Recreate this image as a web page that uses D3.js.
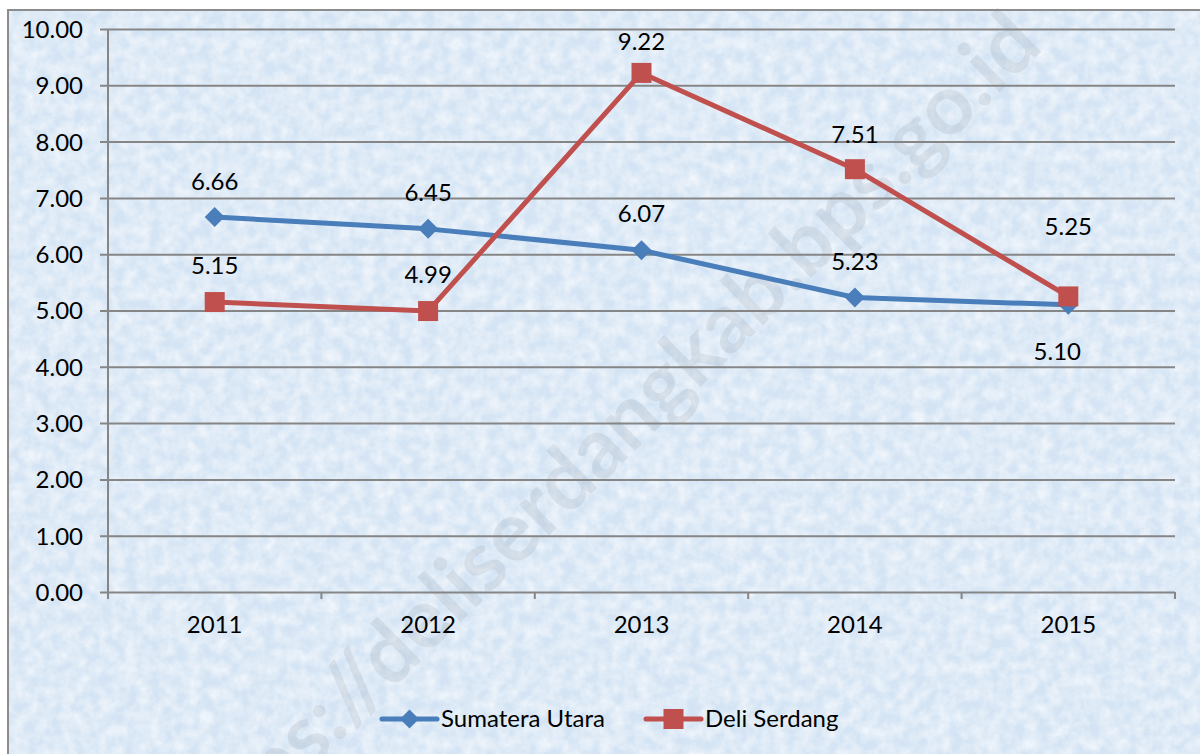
<!DOCTYPE html>
<html>
<head>
<meta charset="utf-8">
<script src="https://cdnjs.cloudflare.com/ajax/libs/d3/7.8.5/d3.min.js"></script>
<style>
  body { margin: 0; background: #fff; }
  svg { display: block; }
  text { font-family: Lato, "Open Sans", sans-serif; fill: #000; }
</style>
</head>
<body>
<div id="chart"></div>
<script>
// data
const years = ["2011", "2012", "2013", "2014", "2015"];
const sumateraUtara = [6.66, 6.45, 6.07, 5.23, 5.10];
const deliSerdang = [5.15, 4.99, 9.22, 7.51, 5.25];
const seriesNames = ["Sumatera Utara", "Deli Serdang"];
const yTicks = [0, 1, 2, 3, 4, 5, 6, 7, 8, 9, 10];
// label offsets (px from the point), as placed in the original
const blueLabelDy = [-35, -36, -37, -36, 47];
const blueLabelDx = [0, 0, 0, 0, -11];
const redLabelDy = [-36, -36, -31, -35, -70];

const W = 1200, H = 754;
const margin = {left: 108, right: 25, top: 29, bottom: 162};
const fontSize = "24px";

const svg = d3.select("#chart").append("svg")
  .attr("width", W).attr("height", H);

// background texture
const defs = svg.append("defs");
const f = defs.append("filter").attr("id", "tex")
  .attr("x", 0).attr("y", 0).attr("width", "100%").attr("height", "100%");
f.append("feTurbulence").attr("type", "fractalNoise")
  .attr("baseFrequency", "0.08").attr("numOctaves", 4).attr("seed", 7).attr("result", "noise");
f.append("feColorMatrix").attr("in", "noise").attr("type", "matrix")
  .attr("values", "0 0 0 0 1  0 0 0 0 1  0 0 0 0 1  0 0 0 -1.0 0.72")
  .attr("result", "spots");
f.append("feComposite").attr("in", "spots").attr("in2", "SourceGraphic").attr("operator", "over");

svg.append("rect")
  .attr("x", 8).attr("y", 10).attr("width", W + 10).attr("height", H + 10)
  .attr("fill", "#d4e4f4")
  .attr("filter", "url(#tex)");
svg.append("rect")
  .attr("x", 8).attr("y", 10).attr("width", W + 10).attr("height", H + 10)
  .attr("fill", "none")
  .attr("stroke", "#8c8c8c").attr("stroke-width", 2);

// watermark
svg.append("text")
  .attr("transform", "translate(1045,48) rotate(-44.5)")
  .attr("text-anchor", "end")
  .style("font-size", "84px").style("font-weight", "bold")
  .style("fill", "#7f8a96").style("opacity", 0.15)
  .text("https://deliserdangkab.bps.go.id");

// scales
const x = d3.scaleBand().domain(years)
  .range([margin.left, W - margin.right]).padding(0);
const y = d3.scaleLinear().domain([0, 10])
  .range([H - margin.bottom, margin.top]);
const cx = d => x(d) + x.bandwidth() / 2;

// gridlines + y axis
const yAxis = d3.axisLeft(y).tickValues(yTicks)
  .tickSize(-(W - margin.right - margin.left))
  .tickFormat(d3.format(".2f"));
const gy = svg.append("g").attr("transform", `translate(${margin.left},0)`).call(yAxis);
gy.select(".domain").remove();
gy.selectAll(".tick line").attr("stroke", "#868686").attr("stroke-width", 2)
  .attr("x1", -8);
gy.selectAll(".tick text").attr("x", -25).attr("dy", "0.35em")
  .style("font-size", fontSize).style("font-family", "Lato, sans-serif").attr("fill", "#000");

svg.append("line")
  .attr("x1", margin.left).attr("x2", margin.left)
  .attr("y1", margin.top).attr("y2", y(0) + 7)
  .attr("stroke", "#868686").attr("stroke-width", 2);

// x axis
const xAxis = d3.axisBottom(x).tickSize(0).tickPadding(24);
const gx = svg.append("g").attr("transform", `translate(0,${y(0)})`).call(xAxis);
gx.select(".domain").remove();
gx.selectAll(".tick text").style("font-size", fontSize).style("font-family", "Lato, sans-serif").attr("fill", "#000");
svg.append("g").selectAll("line")
  .data(years.slice(1).concat(["end"]))
  .join("line")
  .attr("x1", d => d === "end" ? W - margin.right : x(d))
  .attr("x2", d => d === "end" ? W - margin.right : x(d))
  .attr("y1", y(0)).attr("y2", y(0) + 7)
  .attr("stroke", "#868686").attr("stroke-width", 2);

// lines
const blue = "#4a7ebb", red = "#c0504d";
const line = d3.line().x((d, i) => cx(years[i])).y(d => y(d));

svg.append("path").datum(sumateraUtara)
  .attr("d", line).attr("fill", "none")
  .attr("stroke", blue).attr("stroke-width", 5).attr("stroke-linejoin", "round");
svg.append("path").datum(deliSerdang)
  .attr("d", line).attr("fill", "none")
  .attr("stroke", red).attr("stroke-width", 5).attr("stroke-linejoin", "round");

const diamond = d3.symbol().type(d3.symbolSquare).size(200);
svg.append("g").selectAll("path")
  .data(sumateraUtara).join("path")
  .attr("d", diamond())
  .attr("transform", (d, i) => `translate(${cx(years[i])},${y(d)}) rotate(45)`)
  .attr("fill", blue);

svg.append("g").selectAll("rect")
  .data(deliSerdang).join("rect")
  .attr("x", (d, i) => cx(years[i]) - 10).attr("y", d => y(d) - 10)
  .attr("width", 20).attr("height", 20)
  .attr("fill", red);

// data labels
svg.append("g").selectAll("text")
  .data(sumateraUtara).join("text")
  .attr("x", (d, i) => cx(years[i]) + blueLabelDx[i])
  .attr("y", (d, i) => y(d) + blueLabelDy[i])
  .attr("dy", "0.35em").attr("text-anchor", "middle")
  .style("font-size", fontSize)
  .text(d => d3.format(".2f")(d));
svg.append("g").selectAll("text")
  .data(deliSerdang).join("text")
  .attr("x", (d, i) => cx(years[i]))
  .attr("y", (d, i) => y(d) + redLabelDy[i])
  .attr("dy", "0.35em").attr("text-anchor", "middle")
  .style("font-size", fontSize)
  .text(d => d3.format(".2f")(d));

// legend
const legend = svg.append("g").attr("transform", "translate(0,719)");
const leg = [
  {name: seriesNames[0], color: blue, x: 382},
  {name: seriesNames[1], color: red, x: 646}
];
leg.forEach((l, i) => {
  const g = legend.append("g").attr("transform", `translate(${l.x},0)`);
  g.append("line").attr("x1", 0).attr("x2", 55).attr("y1", 0).attr("y2", 0)
    .attr("stroke", l.color).attr("stroke-width", 5).attr("stroke-linecap", "round");
  if (i === 0) {
    g.append("path").attr("d", d3.symbol().type(d3.symbolSquare).size(180)())
      .attr("transform", "translate(27.5,0) rotate(45)").attr("fill", l.color);
  } else {
    g.append("rect").attr("x", 17.5).attr("y", -10).attr("width", 20).attr("height", 20)
      .attr("fill", l.color);
  }
  g.append("text").attr("x", 59).attr("dy", "0.35em")
    .style("font-size", fontSize).text(l.name);
});
</script>
</body>
</html>
